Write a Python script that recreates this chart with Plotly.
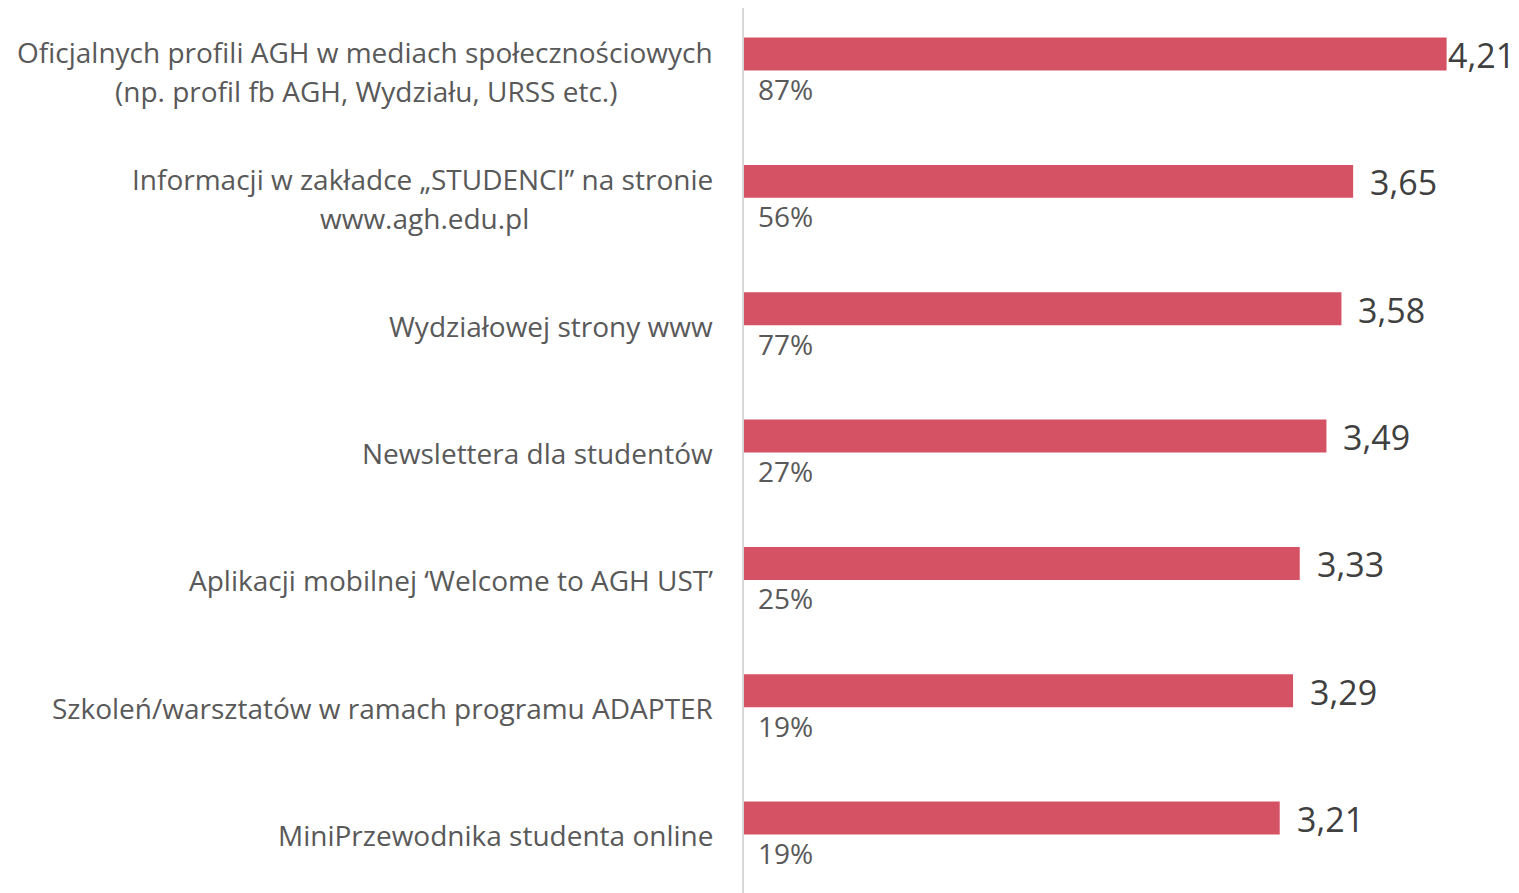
import plotly.graph_objects as go

categories = [
    "Oficjalnych profili AGH w mediach społecznościowych<br>(np. profil fb AGH, Wydziału, URSS etc.)",
    "Informacji w zakładce „STUDENCI” na stronie<br>www.agh.edu.pl",
    "Wydziałowej strony www",
    "Newslettera dla studentów",
    "Aplikacji mobilnej ‘Welcome to AGH UST’",
    "Szkoleń/warsztatów w ramach programu ADAPTER",
    "MiniPrzewodnika studenta online",
]
ratings = [4.21, 3.65, 3.58, 3.49, 3.33, 3.29, 3.21]
percents = ["87%", "56%", "77%", "27%", "25%", "19%", "19%"]

FONT = "Open Sans"
BAR_COLOR = "#D55265"
LABEL_COLOR = "#595959"
VALUE_COLOR = "#404040"

keys = [f"c{i}" for i in range(len(categories))]

fig = go.Figure()
fig.add_trace(go.Bar(
    y=keys,
    x=ratings,
    orientation="h",
    marker=dict(color=BAR_COLOR, line=dict(width=0)),
    width=0.259,
    offset=-0.263,
    cliponaxis=False,
    hoverinfo="skip",
))

annotations = []
for k, cat, pct, v in zip(keys, categories, percents, ratings):
    lines = cat.split("<br>")
    if len(lines) == 1:
        annotations.append(dict(
            x=0, xref="paper", y=k, yref="y", text=lines[0],
            xanchor="right", yanchor="middle", xshift=-29, showarrow=False,
            font=dict(family=FONT, size=28, color=LABEL_COLOR),
        ))
    else:
        annotations.append(dict(
            x=0, xref="paper", y=k, yref="y", text=lines[0],
            xanchor="right", yanchor="middle", xshift=-29, yshift=19.5,
            showarrow=False,
            font=dict(family=FONT, size=28, color=LABEL_COLOR),
        ))
        annotations.append(dict(
            x=0, xref="paper", y=k, yref="y", text=lines[1],
            xanchor="center", yanchor="middle",
            xshift=(-378 if k == "c0" else -320), yshift=-19.5,
            showarrow=False,
            font=dict(family=FONT, size=28, color=LABEL_COLOR),
        ))
    # percent label under the bar
    annotations.append(dict(
        x=0, xref="x", y=k, yref="y", text=pct,
        xanchor="left", yanchor="middle", xshift=12, yshift=-18,
        showarrow=False,
        font=dict(family=FONT, size=28, color=LABEL_COLOR),
    ))
    # value label at the end of the bar (longest one kept inside the chart)
    if v == max(ratings):
        annotations.append(dict(
            x=1, xref="paper", y=k, yref="y", text=f"{v:.2f}".replace(".", ","),
            xanchor="right", yanchor="middle", xshift=22, yshift=16,
            showarrow=False,
            font=dict(family=FONT, size=34, color=VALUE_COLOR),
        ))
    else:
        annotations.append(dict(
            x=v, xref="x", y=k, yref="y", text=f"{v:.2f}".replace(".", ","),
            xanchor="left", yanchor="middle", xshift=15, yshift=16,
            showarrow=False,
            font=dict(family=FONT, size=34, color=VALUE_COLOR),
        ))

fig.update_layout(
    width=1511,
    height=885,
    margin=dict(l=736, r=24, t=0, b=0),
    paper_bgcolor="white",
    plot_bgcolor="white",
    showlegend=False,
    annotations=annotations,
    xaxis=dict(range=[0, 4.5], visible=False, showgrid=False, zeroline=False),
    yaxis=dict(
        type="category",
        categoryorder="array",
        categoryarray=keys,
        range=[6.455, -0.495],
        showticklabels=False,
        ticks="",
        showgrid=False,
        zeroline=False,
        showline=True,
        linecolor="#D9D9D9",
        linewidth=1.5,
    ),
)

fig.write_html("out.html")
